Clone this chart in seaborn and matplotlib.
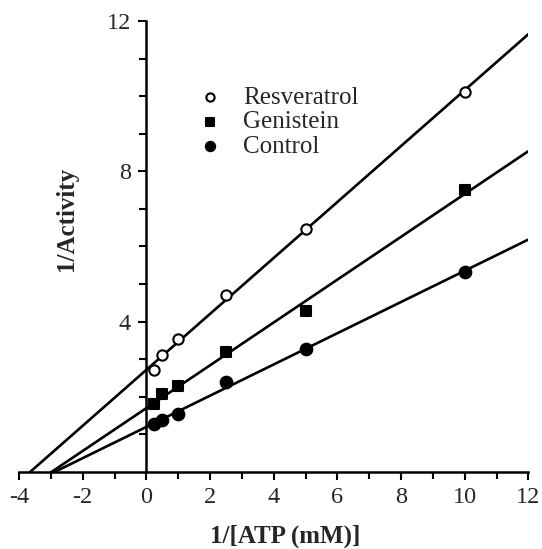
import matplotlib
matplotlib.use("Agg")
import matplotlib.pyplot as plt
import numpy as np
import seaborn as sns
from matplotlib.ticker import MultipleLocator, FixedLocator

# Lineweaver-Burk data
inv_atp = [0.25, 0.5, 1.0, 2.5, 5.0, 10.0]
resveratrol = [2.71, 3.11, 3.53, 4.70, 6.47, 10.11]
genistein = [1.81, 2.07, 2.29, 3.20, 4.29, 7.50]
control = [1.28, 1.38, 1.54, 2.40, 3.26, 5.33]

series_names = ["Resveratrol", "Genistein", "Control"]
series_values = [resveratrol, genistein, control]
x_ticks = [-4, -2, 0, 2, 4, 6, 8, 10, 12]
y_ticks = [4, 8, 12]

sns.set_style("ticks")
plt.rcParams["font.family"] = ["Liberation Serif", "DejaVu Serif"]

fig = plt.figure(figsize=(5.42, 5.49), dpi=100)
ax = fig.add_axes([0.0351, 0.1403, 0.9397, 0.8215])
ax.set_xlim(-4, 12)
ax.set_ylim(0, 12)

styles = {
    "Resveratrol": dict(marker="o", facecolor="white", s=55),
    "Genistein": dict(marker="s", facecolor="black", s=60),
    "Control": dict(marker="o", facecolor="black", s=70),
}

# scatter + least-squares line, line extended over the whole x range
for name, vals in zip(series_names, series_values):
    st = styles[name]
    sns.regplot(
        x=np.array(inv_atp),
        y=np.array(vals),
        ci=None,
        truncate=False,
        marker=st["marker"],
        label=name,
        ax=ax,
        scatter_kws=dict(s=st["s"], facecolors=st["facecolor"], edgecolors="black",
                         linewidths=1.5, alpha=1, zorder=3),
        line_kws=dict(color="black", linewidth=1.9, zorder=2),
    )

ax.set_xlim(-4, 12)
ax.set_ylim(0, 12)

# axes crossing at the origin
ax.spines["left"].set_position(("data", 0))
ax.spines["top"].set_visible(False)
ax.spines["right"].set_visible(False)
for sp in ("left", "bottom"):
    ax.spines[sp].set_linewidth(1.8)
    ax.spines[sp].set_color("black")

ax.set_xticks(x_ticks)
ax.set_xticklabels([str(t) for t in x_ticks])
ax.xaxis.set_minor_locator(MultipleLocator(1))
ax.set_yticks(y_ticks)
ax.set_yticklabels([str(t) for t in y_ticks])
ax.yaxis.set_minor_locator(FixedLocator([1, 2, 3, 5, 6, 7, 9, 10, 11]))
ax.tick_params(which="major", length=6, width=1.5, color="black", labelsize=17.5, pad=5,
               direction="out")
ax.tick_params(which="minor", length=5, width=1.5, color="black", direction="out")

ax.set_xlabel("1/[ATP (mM)]", fontsize=18, fontweight="bold")
ax.set_ylabel("1/Activity", fontsize=18, fontweight="bold")
ax.xaxis.label.set_va("center")
ax.yaxis.label.set_va("center")
ax.xaxis.set_label_coords(0.522, -0.142)
ax.yaxis.set_label_coords(0.094, 0.561)

ax.legend(
    loc="upper left",
    bbox_to_anchor=(197.5 / 542, 1 - 86 / 549),
    bbox_transform=fig.transFigure,
    frameon=False,
    fontsize=18,
    markerscale=0.8,
    handlelength=1.0,
    handletextpad=0.82,
    labelspacing=0.09,
    borderpad=0,
    borderaxespad=0,
)

fig.savefig("out.png", dpi=100)
